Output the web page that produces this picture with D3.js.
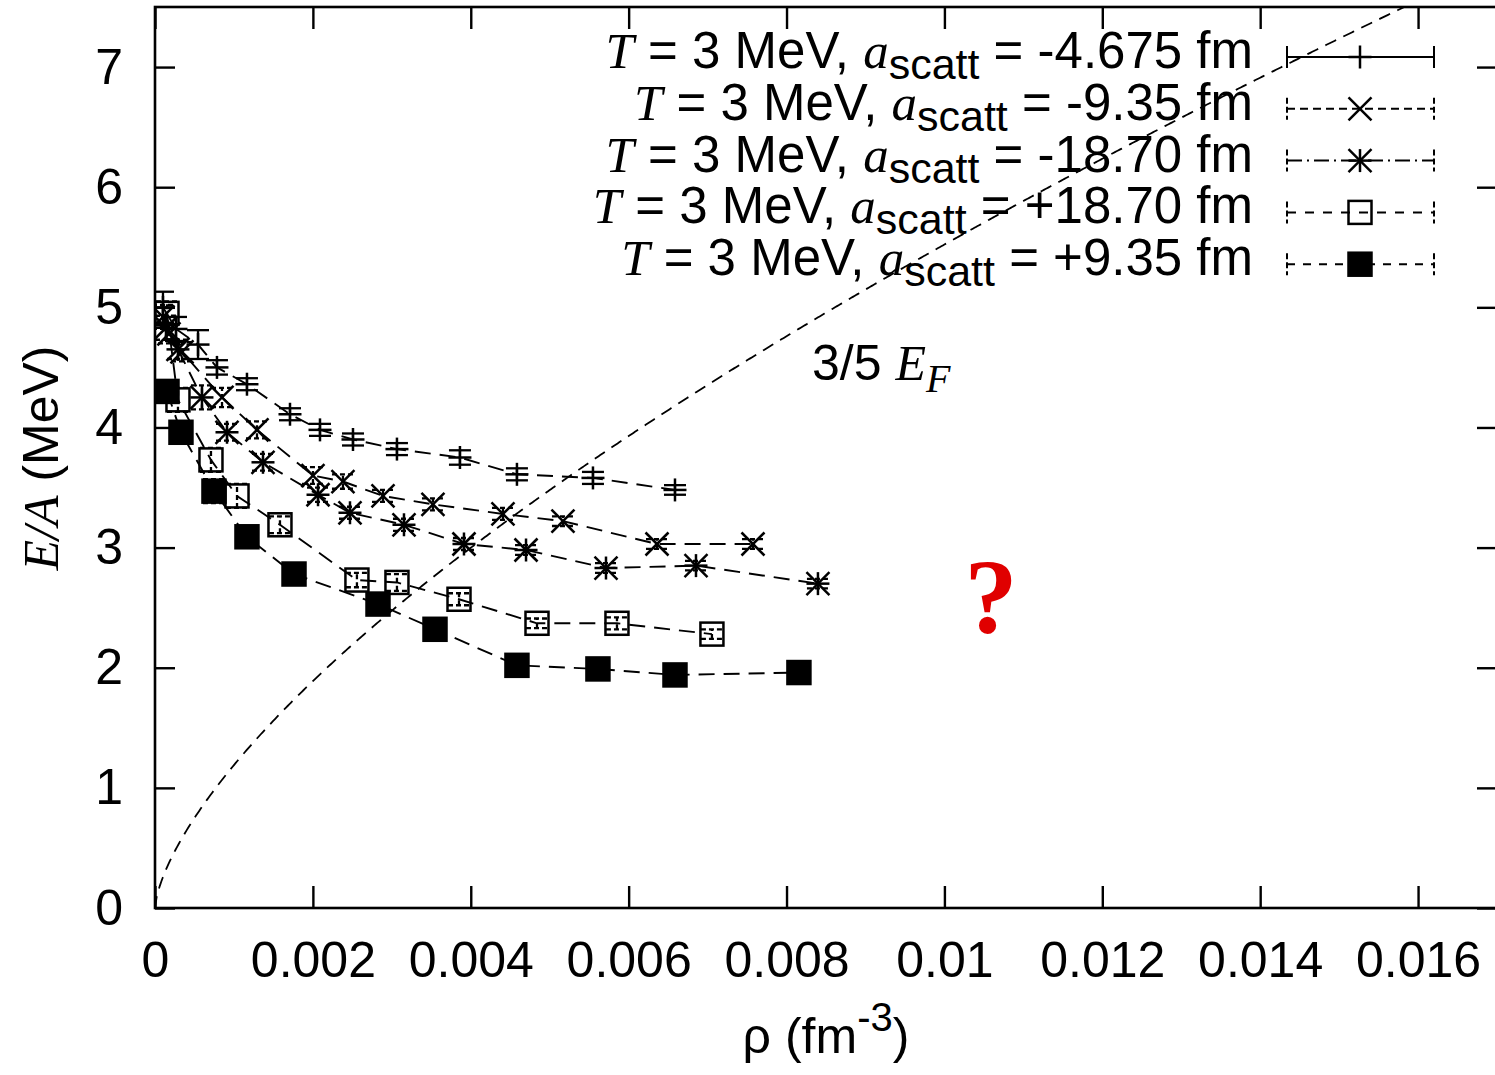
<!DOCTYPE html>
<html>
<head>
<meta charset="utf-8">
<script src="https://cdn.jsdelivr.net/npm/d3@7"></script>
<style>
  body { margin: 0; background: #fff; }
  svg { display: block; }
  .sans { font-family: "Liberation Sans", Arial, sans-serif; }
  .serif-it { font-family: "Liberation Serif", "Times New Roman", serif; font-style: italic; }
</style>
</head>
<body>
<script>
// ---- data ----
const xTicks = [0, 0.002, 0.004, 0.006, 0.008, 0.01, 0.012, 0.014, 0.016]
const yTicks = [0, 1, 2, 3, 4, 5, 6, 7]

const legendLabels = ['-4.675', '-9.35', '-18.70', '+18.70', '+9.35']
const markers = ['plus', 'cross', 'star', 'box', 'boxfill']

// a_scatt = -4.675 fm
const rho1 = [0.000101, 0.000266, 0.000545, 0.000785, 0.001165, 0.00171, 0.00209, 0.002508, 0.003065, 0.003863, 0.004585, 0.005548, 0.006587]
const ea1  = [5.00, 4.82, 4.69, 4.50, 4.36, 4.11, 3.98, 3.90, 3.82, 3.75, 3.61, 3.58, 3.48]
const err1 = [0.13, 0.10, 0.12, 0.06, 0.05, 0.05, 0.05, 0.05, 0.05, 0.06, 0.05, 0.05, 0.04]

// a_scatt = -9.35 fm
const rho2 = [0.000101, 0.000177, 0.000342, 0.000849, 0.001292, 0.002001, 0.002381, 0.002888, 0.003521, 0.004408, 0.005168, 0.006359, 0.007575]
const ea2  = [4.92, 4.78, 4.63, 4.25, 3.98, 3.60, 3.55, 3.43, 3.36, 3.28, 3.22, 3.03, 3.03]
const err2 = [0.10, 0.08, 0.08, 0.08, 0.07, 0.07, 0.06, 0.05, 0.05, 0.05, 0.04, 0.04, 0.04]

// a_scatt = -18.70 fm
const rho3 = [0.000139, 0.000291, 0.000595, 0.000912, 0.001368, 0.002065, 0.00247, 0.003154, 0.003914, 0.0047, 0.005713, 0.006853, 0.008398]
const ea3  = [4.83, 4.65, 4.25, 3.96, 3.71, 3.44, 3.29, 3.19, 3.03, 2.98, 2.83, 2.85, 2.70]
const err3 = [0.10, 0.08, 0.10, 0.07, 0.07, 0.06, 0.05, 0.05, 0.05, 0.04, 0.04, 0.04, 0.04]

// a_scatt = +18.70 fm
const rho4 = [0.000152, 0.000291, 0.000709, 0.001039, 0.001583, 0.002558, 0.003065, 0.003851, 0.004839, 0.005852, 0.007055]
const ea4  = [4.95, 4.23, 3.73, 3.43, 3.19, 2.73, 2.71, 2.57, 2.37, 2.37, 2.28]
const err4 = [0.10, 0.10, 0.10, 0.10, 0.07, 0.06, 0.07, 0.05, 0.04, 0.05, 0.04]

// a_scatt = +9.35 fm
const rho5 = [0.000152, 0.000329, 0.000747, 0.001165, 0.001761, 0.002825, 0.003547, 0.004585, 0.005611, 0.006587, 0.008157]
const ea5  = [4.30, 3.96, 3.47, 3.09, 2.78, 2.53, 2.32, 2.02, 1.99, 1.94, 1.96]
const err5 = [0.08, 0.06, 0.10, 0.06, 0.08, 0.07, 0.06, 0.04, 0.04, 0.04, 0.04]

// 3/5 E_F of neutron matter: (3/5) hbar^2/2m (3 pi^2 rho)^(2/3)
const hbar2over2m = 20.72 // MeV fm^2

const seriesRho = [rho1, rho2, rho3, rho4, rho5]
const seriesEA = [ea1, ea2, ea3, ea4, ea5]
const seriesErr = [err1, err2, err3, err4, err5]

// line styles of the error bars / legend samples
const dashes = ['none', '8,5', '15,5,2,5', '9,9', '8,8']

const W = 1495, H = 1075
const pLeft = 155, pRight = 1497, pTop = 7, pBottom = 908

const svg = d3.select('body').append('svg')
    .attr('width', W)
    .attr('height', H)

const x = d3.scaleLinear().domain([0, 0.017]).range([pLeft, pRight])
const y = d3.scaleLinear().domain([0, 7.5]).range([pBottom, pTop])

svg.append('defs').append('clipPath').attr('id', 'clip')
    .append('rect')
    .attr('x', pLeft).attr('y', pTop)
    .attr('width', pRight - pLeft).attr('height', pBottom - pTop)

const fmt = d => String(+d.toFixed(3))

// axes, ticks pointing inward on all four sides
const axB = svg.append('g').attr('transform', `translate(0,${pBottom})`)
    .call(d3.axisBottom(x).tickValues(xTicks).tickFormat(fmt).tickSizeInner(-22).tickSizeOuter(0).tickPadding(33))
const axL = svg.append('g').attr('transform', `translate(${pLeft},0)`)
    .call(d3.axisLeft(y).tickValues(yTicks).tickSizeInner(-20).tickSizeOuter(0).tickPadding(32))
const axT = svg.append('g').attr('transform', `translate(0,${pTop})`)
    .call(d3.axisTop(x).tickValues(xTicks).tickFormat('').tickSizeInner(-22).tickSizeOuter(0))
const axR = svg.append('g').attr('transform', `translate(${pRight},0)`)
    .call(d3.axisRight(y).tickValues(yTicks).tickFormat('').tickSizeInner(-20).tickSizeOuter(0))

for (const a of [axB, axL, axT, axR]) {
    a.select('.domain').remove()
    a.selectAll('.tick line').attr('stroke', '#000').attr('stroke-width', 2.4)
    a.selectAll('.tick text')
        .attr('class', 'sans')
        .attr('font-size', 50)
        .attr('fill', '#000')
}

const plot = svg.append('g').attr('clip-path', 'url(#clip)')

// 3/5 E_F curve
const fermiRho = d3.range(0, 0.0172, 0.00002)
const fermi = fermiRho.map(r => [r, 0.6 * hbar2over2m * Math.pow(3 * Math.PI * Math.PI * r, 2 / 3)])
plot.append('path')
    .datum(fermi)
    .attr('d', d3.line().x(d => x(d[0])).y(d => y(d[1])))
    .attr('fill', 'none')
    .attr('stroke', '#000')
    .attr('stroke-width', 1.8)
    .attr('stroke-dasharray', '12,8')

const ms = 11.5 // marker half size
function drawMarker(g, kind, cx, cy) {
    const s = ms
    const line = (x1, y1, x2, y2) => g.append('line')
        .attr('x1', x1).attr('y1', y1).attr('x2', x2).attr('y2', y2)
        .attr('stroke', '#000').attr('stroke-width', 2.5)
    if (kind === 'plus' || kind === 'star') {
        line(cx - s, cy, cx + s, cy)
        line(cx, cy - s, cx, cy + s)
    }
    if (kind === 'cross' || kind === 'star') {
        line(cx - s, cy - s, cx + s, cy + s)
        line(cx - s, cy + s, cx + s, cy - s)
    }
    if (kind === 'box' || kind === 'boxfill') {
        g.append('rect')
            .attr('x', cx - s).attr('y', cy - s)
            .attr('width', 2 * s).attr('height', 2 * s)
            .attr('fill', kind === 'boxfill' ? '#000' : 'none')
            .attr('stroke', '#000').attr('stroke-width', 2.5)
    }
}

seriesRho.forEach((rhos, i) => {
    const pts = rhos.map((r, j) => ({ r: r, e: seriesEA[i][j], d: seriesErr[i][j] }))

    // connecting dashed line
    plot.append('path')
        .datum(pts)
        .attr('d', d3.line().x(d => x(d.r)).y(d => y(d.e)))
        .attr('fill', 'none')
        .attr('stroke', '#000')
        .attr('stroke-width', 1.9)
        .attr('stroke-dasharray', '16,9')

    const g = plot.append('g')
    pts.forEach(p => {
        const cx = x(p.r)
        const y0 = y(p.e - p.d), y1 = y(p.e + p.d)
        const eb = g.append('g')
            .attr('stroke', '#000')
            .attr('stroke-width', 2.3)
            .attr('stroke-dasharray', dashes[i] === 'none' ? null : '5,3')
        eb.append('line').attr('x1', cx).attr('x2', cx).attr('y1', y0).attr('y2', y1)
        eb.append('line').attr('x1', cx - 11).attr('x2', cx + 11).attr('y1', y0).attr('y2', y0)
        eb.append('line').attr('x1', cx - 11).attr('x2', cx + 11).attr('y1', y1).attr('y2', y1)
        drawMarker(g, markers[i], cx, y(p.e))
    })
})

// frame
svg.append('rect')
    .attr('x', pLeft).attr('y', pTop)
    .attr('width', pRight - pLeft).attr('height', pBottom - pTop)
    .attr('fill', 'none')
    .attr('stroke', '#000')
    .attr('stroke-width', 2.6)

// legend
const legend = svg.append('g')
legendLabels.forEach((lab, i) => {
    const cy = 57 + i * 51.8
    const t = legend.append('text')
        .attr('class', 'sans')
        .attr('x', 1253)
        .attr('y', cy + 11)
        .attr('text-anchor', 'end')
        .attr('font-size', 51)
    t.append('tspan').attr('class', 'serif-it').text('T')
    t.append('tspan').text(' = 3 MeV, ')
    t.append('tspan').attr('class', 'serif-it').text('a')
    t.append('tspan').attr('font-size', 43).attr('dy', 11).text('scatt')
    t.append('tspan').attr('dy', -11).text(' = ' + lab + ' fm')

    const g = legend.append('g')
        .attr('stroke', '#000')
        .attr('stroke-width', 2)
        .attr('stroke-dasharray', dashes[i] === 'none' ? null : dashes[i])
    g.append('line').attr('x1', 1287).attr('x2', 1434).attr('y1', cy).attr('y2', cy)
    g.append('line').attr('x1', 1287).attr('x2', 1287).attr('y1', cy - 11).attr('y2', cy + 11)
        .attr('stroke-dasharray', dashes[i] === 'none' ? null : '6,3')
    g.append('line').attr('x1', 1434).attr('x2', 1434).attr('y1', cy - 11).attr('y2', cy + 11)
        .attr('stroke-dasharray', dashes[i] === 'none' ? null : '6,3')
    drawMarker(legend, markers[i], 1360, cy)
})

// 3/5 E_F label
const ef = svg.append('text')
    .attr('class', 'sans')
    .attr('x', 812)
    .attr('y', 380)
    .attr('font-size', 50)
ef.append('tspan').text('3/5 ')
ef.append('tspan').attr('class', 'serif-it').text('E')
ef.append('tspan').attr('class', 'serif-it').attr('font-size', 40).attr('dy', 12).text('F')

// red question mark
svg.append('text')
    .attr('x', 991)
    .attr('y', 633)
    .attr('text-anchor', 'middle')
    .attr('font-family', '"Liberation Serif", "Times New Roman", serif')
    .attr('font-weight', 'bold')
    .attr('font-size', 106)
    .attr('fill', '#e00000')
    .text('?')

// axis titles
const xl = svg.append('text')
    .attr('class', 'sans')
    .attr('x', 826)
    .attr('y', 1053)
    .attr('text-anchor', 'middle')
    .attr('font-size', 50)
xl.append('tspan').text('ρ (fm')
xl.append('tspan').attr('font-size', 40).attr('dy', -22).text('-3')
xl.append('tspan').attr('dy', 22).text(')')

const yl = svg.append('text')
    .attr('class', 'sans')
    .attr('transform', 'translate(58,458) rotate(-90)')
    .attr('text-anchor', 'middle')
    .attr('font-size', 50)
yl.append('tspan').attr('class', 'serif-it').text('E/A')
yl.append('tspan').text(' (MeV)')
</script>
</body>
</html>
